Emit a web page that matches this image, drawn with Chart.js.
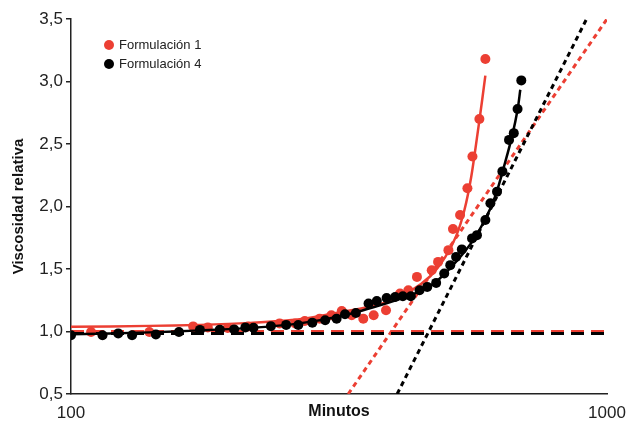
<!DOCTYPE html>
<html>
<head>
<meta charset="utf-8">
<script src="https://cdn.jsdelivr.net/npm/chart.js@4"></script>
<style>
  html, body { margin: 0; padding: 0; background: #fff; }
  #wrap { position: relative; width: 629px; height: 421px; }
  #legend { position: absolute; left: 104px; top: 37px; font: 13px "Liberation Sans", Arial, sans-serif; color: #222; }
  #legend div { height: 19px; line-height: 16px; }
  #legend span.dot { display: inline-block; width: 10px; height: 10px; border-radius: 50%; margin-right: 5px; vertical-align: -1px; }
</style>
</head>
<body>
<div id="wrap">
  <canvas id="chart" width="629" height="421"></canvas>
  <div id="legend">
    <div><span class="dot" style="background:#ec3f33"></span>Formulación 1</div>
    <div><span class="dot" style="background:#000"></span>Formulación 4</div>
  </div>
</div>
<script>
/* global Chart */

const RED = '#ec3f33'
const BLACK = '#000'

// measured points, minutes / relative viscosity
const f1Min = [109, 140, 169, 180, 196, 214, 245, 262, 273, 291, 306, 320, 334, 351, 367, 387, 411, 426, 442, 471, 484, 506, 516, 532, 549, 561, 578, 593]
const f1Vis = [0.996, 0.996, 1.041, 1.033, 1.028, 1.041, 1.065, 1.065, 1.084, 1.103, 1.13, 1.164, 1.13, 1.103, 1.13, 1.17, 1.304, 1.33, 1.437, 1.49, 1.557, 1.651, 1.82, 1.932, 2.146, 2.4, 2.7, 3.18]

const f4Min = [100, 114.5, 122.5, 130, 144, 159, 174, 189.5, 201.5, 211.5, 219, 236, 252, 265.5, 282, 298, 313, 324.5, 340, 359, 372, 388, 402.5, 416, 430.5, 447, 462, 480, 497, 510, 523, 536, 560, 572, 593, 606, 623.5, 638, 656.5, 670, 681, 692]
const f4Vis = [0.97, 0.97, 0.985, 0.97, 0.977, 0.996, 1.013, 1.015, 1.017, 1.033, 1.03, 1.043, 1.053, 1.052, 1.071, 1.09, 1.103, 1.138, 1.148, 1.224, 1.244, 1.268, 1.276, 1.282, 1.282, 1.33, 1.357, 1.389, 1.464, 1.531, 1.597, 1.657, 1.745, 1.771, 1.892, 2.026, 2.119, 2.281, 2.533, 2.587, 2.78, 3.009]

// fitted curves
const f1FitMin = [100, 140, 174, 216, 267, 318, 377, 429, 468, 499, 523, 542, 558, 573, 585, 593]
const f1FitVis = [1.037, 1.045, 1.053, 1.069, 1.098, 1.154, 1.218, 1.322, 1.442, 1.595, 1.763, 1.972, 2.236, 2.573, 2.854, 3.047]

const f4FitMin = [100, 140, 174, 216, 267, 318, 377, 429, 468, 510, 556, 593, 619, 646, 666, 681, 689]
const f4FitVis = [0.977, 0.993, 1.009, 1.029, 1.065, 1.122, 1.21, 1.29, 1.362, 1.507, 1.699, 1.9, 2.084, 2.357, 2.573, 2.774, 2.934]

// baselines and tangents
const baseMin = [100, 1000]
const f1Base = [1.0, 1.0]
const f4Base = [0.985, 0.985]
const f1TanMin = [329, 1000]
const f4TanMin = [406, 916]
const tanVis = [0.5, 3.5]

const yTicks = [0.5, 1.0, 1.5, 2.0, 2.5, 3.0, 3.5]
const xTicks = [100, 1000]

const pts = (xs, ys) => xs.map((x, i) => ({ x, y: ys[i] }))

const lineSet = (data, color, extra) => Object.assign({
  data,
  borderColor: color,
  backgroundColor: color,
  borderWidth: 2.5,
  pointRadius: 0,
  showLine: true,
  fill: false,
  tension: 0.3
}, extra)

const dotSet = (data, color, order) => ({
  data,
  borderColor: color,
  backgroundColor: color,
  pointRadius: 5,
  pointBorderWidth: 0,
  showLine: false,
  order
})

const font = '"Liberation Sans", Arial, sans-serif'

new Chart(document.getElementById('chart'), {
  type: 'scatter',
  data: {
    datasets: [
      dotSet(pts(f4Min, f4Vis), BLACK, 0),
      lineSet(pts(f4FitMin, f4FitVis), BLACK, { order: 1 }),
      dotSet(pts(f1Min, f1Vis), RED, 2),
      lineSet(pts(f1FitMin, f1FitVis), RED, { order: 3 }),
      lineSet(pts(baseMin, f4Base), BLACK, { order: 4, borderWidth: 3, borderDash: [13, 7], tension: 0 }),
      lineSet(pts(baseMin, f1Base), RED, { order: 5, borderWidth: 3, borderDash: [13, 7], tension: 0 }),
      lineSet(pts(f4TanMin, tanVis), BLACK, { order: 6, borderWidth: 3, borderDash: [5, 4], tension: 0 }),
      lineSet(pts(f1TanMin, tanVis), RED, { order: 7, borderWidth: 3, borderDash: [5, 4], tension: 0 })
    ]
  },
  options: {
    responsive: false,
    animation: false,
    layout: { padding: { top: 19, right: 0, left: 0, bottom: 0 } },
    plugins: { legend: { display: false }, tooltip: { enabled: false } },
    scales: {
      x: {
        type: 'logarithmic',
        min: 100,
        max: 1000,
        afterBuildTicks: s => { s.ticks = xTicks.map(value => ({ value })) },
        afterFit: s => { s.height = 27; s.paddingRight = 22 },
        grid: { display: false, drawTicks: false },
        border: { display: true, color: '#222', width: 1.5 },
        ticks: {
          color: '#222',
          padding: 9,
          maxRotation: 0,
          font: { family: font, size: 17 },
          callback: v => String(v)
        },
        title: {
          display: true,
          text: 'Minutos',
          color: '#111',
          padding: { top: -24, bottom: 0 },
          font: { family: font, size: 16, weight: 'bold' }
        }
      },
      y: {
        min: 0.5,
        max: 3.5,
        afterBuildTicks: s => { s.ticks = yTicks.map(value => ({ value })) },
        afterFit: s => { s.width = 71 },
        grid: { display: true, drawOnChartArea: false, drawTicks: true, tickLength: 5, color: '#222', lineWidth: 1.5 },
        border: { display: true, color: '#222', width: 1.5 },
        ticks: {
          color: '#222',
          padding: 3,
          font: { family: font, size: 17 },
          callback: v => v.toFixed(1).replace('.', ',')
        },
        title: {
          display: true,
          text: 'Viscosidad relativa',
          color: '#111',
          padding: { top: 10, bottom: 0 },
          font: { family: font, size: 15, weight: 'bold' }
        }
      }
    }
  }
})
</script>
</body>
</html>
